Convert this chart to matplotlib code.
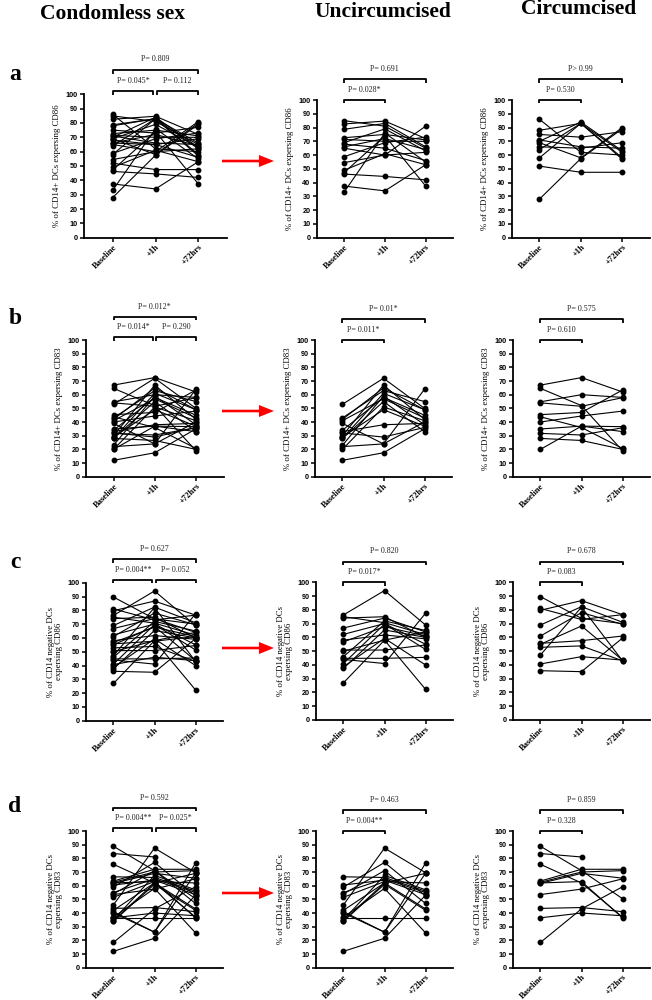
import numpy as np
import matplotlib

matplotlib.use("Agg")
import matplotlib.pyplot as plt  # noqa: E402
from matplotlib.patches import FancyArrow  # noqa: E402

TIMEPOINTS = ["Baseline", "+1h", "+72hrs"]
COLUMN_TITLES = ["Condomless sex", "Uncircumcised", "Circumcised"]
ROW_LETTERS = ["a", "b", "c", "d"]
Y_LABELS = [
    "% of CD14+ DCs expersing CD86",
    "% of CD14+ DCs expersing CD83",
    "% of CD14 negative DCs\nexpersing CD86",
    "% of CD14 negative DCs\nexpersing CD83",
]

# per-subject values (baseline, +1h, +72hrs)
CD14POS_CD86_UNCIRC = [
    [85, 81, 65], [82.6, 84.7, 72], [78.7, 83, 66], [72.6, 75, 71],
    [71.4, 70, 70], [69, 79, 63], [68, 65, 56], [66, 72, 64],
    [65, 60, 62], [58.8, 69, 73], [54.5, 60, 81], [49, 61, 53],
    [47.2, 74, 37.5], [46.2, 44.5, 42], [37.5, 34, 53], [33, 76, 55],
]
CD14POS_CD86_CIRC = [
    [86, 62, 60], [78, 83, 62], [75, 73, 77], [71, 66, 65],
    [70, 84, 63], [69, 58, 80], [66, 65, 69], [64, 83, 58],
    [58, 83, 57], [52, 47.5, 47.5], [28, 57.5, 79],
]
CD14POS_CD83_UNCIRC = [
    [53, 72, 50], [43, 63, 55], [42, 65, 49], [41, 57, 43],
    [39, 24, 40], [33, 38, 39], [32, 29, 36], [30, 67, 42],
    [28, 61, 49], [28, 55, 33], [23, 59, 38], [22, 24, 64],
    [20, 51, 41], [12, 17.5, 35], [29, 49, 37], [34, 58, 45],
]
CD14POS_CD83_CIRC = [
    [67, 72.5, 62], [64.6, 52, 19], [54.8, 60, 58], [54, 51.5, 57.8],
    [45.4, 47, 63.4], [43.8, 36, 20.7], [40, 44.4, 48], [34.9, 37, 36.6],
    [31.7, 30.5, 35.8], [28, 26.5, 20], [20, 37, 33],
]
CD14NEG_CD86_UNCIRC = [
    [76.3, 94, 69], [75, 70.7, 62], [74, 75, 60], [66.8, 74, 64],
    [62.2, 70, 55], [58, 61.7, 59], [56.7, 67.8, 61], [50.8, 50.8, 54.5],
    [50, 58, 22.3], [44.8, 44.8, 45.5], [44, 41, 77.5], [41, 69.7, 51.3],
    [38.7, 59.3, 40], [37.5, 65.4, 60], [27, 58, 64], [46, 72, 65],
]
CD14NEG_CD86_CIRC = [
    [89.6, 73.8, 70], [81, 73, 76.5], [79.7, 86.7, 76.5], [69, 82.3, 71],
    [61, 78, 69.5], [55.7, 57.6, 61], [55, 68.3, 43.5], [52.8, 53.8, 43],
    [47.2, 82, 43], [40.7, 46, 43.5], [35.8, 35.1, 59.5],
]
CD14NEG_CD83_UNCIRC = [
    [66.5, 66, 56], [60.5, 64, 53.5], [59, 77, 52.5], [55, 65, 55],
    [54, 71, 47], [51.5, 63, 62], [46, 87.5, 69.5], [42, 62, 43],
    [41, 26, 76.5], [37, 58, 25.5], [36.5, 36.5, 36.5], [35, 67.5, 57],
    [34, 61, 42], [34.5, 62, 69], [12, 21.5, 53], [40, 26, 69],
]
CD14NEG_CD83_CIRC = [
    [88.8, 71, 50.5], [83.5, 81, np.nan], [75.6, 62, 37], [63.4, 72, 72],
    [62.5, 70, 71], [61.7, 69, 65.5], [53.5, 57.5, 65], [43.4, 44, 41],
    [36.5, 40, 38], [18.5, 43, 59.2], [62, 63, 36.5],
]

ROWS = [
    (CD14POS_CD86_UNCIRC, CD14POS_CD86_CIRC),
    (CD14POS_CD83_UNCIRC, CD14POS_CD83_CIRC),
    (CD14NEG_CD86_UNCIRC, CD14NEG_CD86_CIRC),
    (CD14NEG_CD83_UNCIRC, CD14NEG_CD83_CIRC),
]

# p-values: combined panel (overall, base vs 1h, 1h vs 72h), then uncirc / circ (overall, base vs 1h)
P_COMBINED = [
    ("P= 0.809", "P= 0.045*", "P= 0.112"),
    ("P= 0.012*", "P= 0.014*", "P= 0.290"),
    ("P= 0.627", "P= 0.004**", "P= 0.052"),
    ("P= 0.592", "P= 0.004**", "P= 0.025*"),
]
P_UNCIRC = [
    ("P= 0.691", "P= 0.028*"),
    ("P= 0.01*", "P= 0.011*"),
    ("P= 0.820", "P= 0.017*"),
    ("P= 0.463", "P= 0.004**"),
]
P_CIRC = [
    ("P> 0.99", "P= 0.530"),
    ("P= 0.575", "P= 0.610"),
    ("P= 0.678", "P= 0.083"),
    ("P= 0.859", "P= 0.328"),
]

W, H = 652, 1000
SERIF = ["Liberation Serif", "DejaVu Serif"]
SANS = ["Liberation Sans", "DejaVu Sans"]

# axes boxes in pixels: (y-axis x, y=100 px, y=0 px, right end)
BOXES = [
    [(84, 94.3, 237.7, 227), (316.7, 100, 237.7, 453), (511.7, 100, 237.7, 650)],
    [(86, 340, 476.7, 223.5), (315, 340, 476.7, 452), (513, 340, 476.7, 650)],
    [(86, 582.7, 720.7, 223), (316, 582.3, 720, 453), (513, 582.3, 720, 650)],
    [(86, 831, 967.7, 223), (316, 831, 967.7, 453), (513, 831, 967.7, 650)],
]
ARROW_Y = [161, 411, 648, 893]
LETTER_Y = [75, 318, 562, 807]

fig = plt.figure(figsize=(W / 100, H / 100), dpi=100)

overlay = fig.add_axes([0, 0, 1, 1], zorder=-1)
overlay.set_xlim(0, W)
overlay.set_ylim(H, 0)
overlay.axis("off")


def bracket(ax, x1, x2, y, label, ty):
    ax.plot([x1, x1, x2, x2], [y - 2.5, y, y, y - 2.5], color="black", lw=1.3,
            clip_on=False, solid_capstyle="butt")
    ax.text((x1 + x2) / 2, ty, label, ha="center", va="center", fontsize=5.8,
            family=SERIF, color="#222222", clip_on=False)


def draw_panel(ax, subjects, ylabel):
    for vals in subjects:
        ax.plot([1, 2, 3], vals, "-o", color="black", lw=0.8, ms=3.2,
                clip_on=False, zorder=3)
    ax.set_xlim(0.33, 3.67)
    ax.set_ylim(0, 100)
    ax.set_yticks(np.arange(0, 101, 10))
    ax.set_xticks([1, 2, 3])
    ax.set_xticklabels(TIMEPOINTS, rotation=45, ha="right", rotation_mode="anchor",
                       fontsize=6.1, fontweight="bold", family=SERIF)
    for lab in ax.get_yticklabels():
        lab.set_fontsize(5.2)
        lab.set_fontweight("bold")
        lab.set_family(SANS)
    ax.tick_params(axis="y", direction="out", length=3, width=1.1, pad=1.5)
    ax.tick_params(axis="x", direction="out", length=3, width=1.1, pad=0.8)
    ax.spines[["top", "right"]].set_visible(False)
    ax.spines[["left", "bottom"]].set_linewidth(1.3)
    ax.set_ylabel(ylabel, fontsize=6.3, family=SERIF, labelpad=3, linespacing=1.0)
    ax.patch.set_alpha(0)


for r in range(4):
    uncirc, circ = ROWS[r]
    groups = [uncirc + circ, uncirc, circ]
    for c in range(3):
        x0, ytop, ybot, xr = BOXES[r][c]
        ax = fig.add_axes([x0 / W, 1 - ybot / H, (xr - x0) / W, (ybot - ytop) / H])
        draw_panel(ax, groups[c], Y_LABELS[r])
        if c == 0:
            p_all, p_1, p_2 = P_COMBINED[r]
            bracket(ax, 1, 1.95, 102, p_1, 109.5)
            bracket(ax, 2.03, 3, 102, p_2, 109.5)
            bracket(ax, 1, 3, 117, p_all, 124.5)
        else:
            p_all, p_1 = (P_UNCIRC if c == 1 else P_CIRC)[r]
            bracket(ax, 1, 2, 100, p_1, 107.5)
            bracket(ax, 1, 3, 115, p_all, 122.5)

    overlay.add_patch(FancyArrow(222, ARROW_Y[r], 52, 0, width=2.6, head_width=12,
                                 head_length=15, length_includes_head=True,
                                 color="#ff0000", lw=0))
    overlay.text(15, LETTER_Y[r], ROW_LETTERS[r], fontsize=17, fontweight="bold",
                 family=SERIF, ha="center", va="center")

overlay.text(112, 14, COLUMN_TITLES[0], fontsize=15.5, fontweight="bold", family=SERIF,
             ha="center", va="center")
overlay.text(383, 12, COLUMN_TITLES[1], fontsize=15.5, fontweight="bold", family=SERIF,
             ha="center", va="center")
overlay.text(579, 9, COLUMN_TITLES[2], fontsize=15.5, fontweight="bold", family=SERIF,
             ha="center", va="center")

fig.savefig("out.png", dpi=100)
